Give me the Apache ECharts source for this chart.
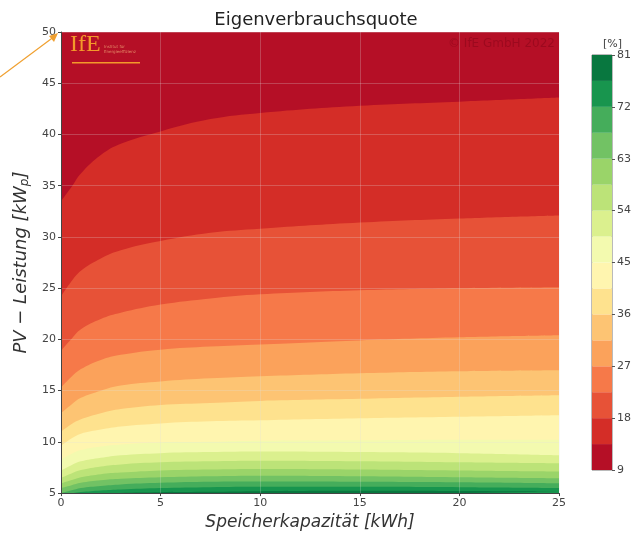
<!DOCTYPE html>
<html>
<head>
<meta charset="utf-8">
<title>Eigenverbrauchsquote</title>
<script src="https://cdn.jsdelivr.net/npm/echarts@6/dist/echarts.min.js"></script>
<style>
  html, body { margin: 0; padding: 0; background: #fff; }
  #chart { width: 638px; height: 536px; }
</style>
</head>
<body>
<div id="chart"></div>
<script>
// Speicherkapazität [kWh] where the contour lines were read
const capacity = [0, 0.5, 1, 2, 3, 5, 7.5, 10, 15, 20, 25]
// contour levels of the colour bar [%]
const levels = [9, 13.5, 18, 22.5, 27, 31.5, 36, 40.5, 45, 49.5, 54, 58.5, 63, 67.5, 72, 76.5, 81]
// PV-Leistung [kWp] of each contour line (value above the line is lower)
const iso13_5 = [33.5, 34.8, 36.2, 38.0, 39.1, 40.3, 41.5, 42.1, 42.8, 43.2, 43.6]
const iso18 = [24.2, 25.6, 26.7, 27.9, 28.7, 29.6, 30.4, 30.8, 31.4, 31.8, 32.1]
const iso22_5 = [18.9, 20.0, 21.0, 22.0, 22.6, 23.4, 24.0, 24.4, 24.8, 25.0, 25.1]
const iso27 = [15.3, 16.3, 17.1, 18.0, 18.5, 19.0, 19.3, 19.5, 19.9, 20.2, 20.4]
const iso31_5 = [12.8, 13.6, 14.3, 15.0, 15.5, 15.9, 16.2, 16.4, 16.7, 16.9, 17.0]
const iso36 = [11.0, 11.7, 12.2, 12.8, 13.2, 13.6, 13.8, 14.0, 14.2, 14.4, 14.55]
const iso40_5 = [9.6, 10.3, 10.8, 11.2, 11.5, 11.8, 12.0, 12.1, 12.3, 12.45, 12.6]
const iso45 = [8.3, 8.8, 9.2, 9.55, 9.75, 9.95, 10.0, 10.1, 10.15, 10.2, 10.2]
const iso49_5 = [7.2, 7.7, 8.1, 8.45, 8.7, 8.9, 9.0, 9.05, 9.0, 8.9, 8.7]
const iso54 = [6.5, 6.9, 7.25, 7.6, 7.8, 8.0, 8.1, 8.15, 8.1, 8.0, 7.9]
const iso58_5 = [5.95, 6.25, 6.55, 6.85, 7.0, 7.2, 7.3, 7.35, 7.3, 7.2, 7.1]
const iso63 = [5.5, 5.75, 6.0, 6.25, 6.4, 6.55, 6.65, 6.7, 6.65, 6.55, 6.45]
const iso67_5 = [5.0, 5.25, 5.5, 5.7, 5.85, 6.0, 6.1, 6.12, 6.1, 6.05, 5.95]
const iso72 = [5.0, 5.0, 5.1, 5.25, 5.35, 5.5, 5.58, 5.62, 5.62, 5.58, 5.5]
const iso76_5 = [5.0, 5.0, 5.0, 5.0, 5.02, 5.08, 5.12, 5.18, 5.22, 5.2, 5.15]

// RdYlGn, one colour per band (9-13.5 ... 76.5-81)
const bandColors = ['#b50f26', '#d42d27', '#e75237', '#f67949', '#fba25b', '#fdc473', '#fee28e', '#fff5af',
  '#f3faaf', '#dbf08e', '#bce378', '#9ad469', '#72c264', '#45ad5b', '#18954e', '#08773f']

const isoLines = [iso13_5, iso18, iso22_5, iso27, iso31_5, iso36, iso40_5, iso45,
  iso49_5, iso54, iso58_5, iso63, iso67_5, iso72, iso76_5]

let chart = echarts.init(document.getElementById('chart'))

// each contour line fills down to 5 kWp with the colour of the band above its level
let contourSeries = isoLines.map((line, i) => {
  return {
    name: String(levels[i + 1]),
    type: 'line',
    xAxisIndex: 0,
    yAxisIndex: 0,
    data: capacity.map((c, j) => [c, line[j]]),
    smooth: 0.4,
    symbol: 'none',
    lineStyle: { width: 0 },
    areaStyle: { color: bandColors[i + 1], opacity: 1, origin: 'start' },
    silent: true,
    z: 2
  }
})

// colour bar: stacked segments of 4.5 %
let barSeries = bandColors.map((col, i) => {
  return {
    type: 'bar',
    xAxisIndex: 1,
    yAxisIndex: 1,
    stack: 'cb',
    barWidth: '100%',
    data: [i === 0 ? levels[1] : levels[i + 1] - levels[i]],
    itemStyle: { color: col },
    silent: true
  }
})

const axisFont = { fontFamily: 'DejaVu Sans', fontSize: 11, color: '#444' }

chart.setOption({
  backgroundColor: '#fff',
  animation: false,
  title: {
    text: 'Eigenverbrauchsquote',
    left: 311,
    top: 6,
    textAlign: 'center',
    textStyle: { fontFamily: 'DejaVu Sans', fontSize: 18, fontWeight: 'normal', color: '#222' }
  },
  grid: [
    { left: 61, top: 32, width: 498, height: 463, show: true, backgroundColor: bandColors[0], borderWidth: 0 },
    { left: 592, top: 55, width: 20, height: 415, show: true, borderColor: '#777', borderWidth: 1 }
  ],
  xAxis: [
    {
      gridIndex: 0,
      type: 'value',
      min: 0,
      max: 25,
      interval: 5,
      z: 5,
      name: 'Speicherkapazität [kWh]',
      nameLocation: 'middle',
      nameGap: 19,
      nameTextStyle: { fontFamily: 'DejaVu Sans', fontStyle: 'italic', fontSize: 17, color: '#333' },
      axisLine: { show: true, onZero: false, lineStyle: { color: '#444', width: 1 } },
      axisTick: { show: true, length: 3, lineStyle: { color: '#444' } },
      axisLabel: Object.assign({ margin: 5 }, axisFont),
      splitLine: { show: true, lineStyle: { color: 'rgba(225,225,225,0.25)', width: 1 } }
    },
    {
      gridIndex: 1,
      type: 'category',
      data: ['cb'],
      show: false
    }
  ],
  yAxis: [
    {
      gridIndex: 0,
      type: 'value',
      min: 5,
      max: 50,
      interval: 5,
      z: 5,
      name: 'PV − Leistung [kW{sub|p}]',
      nameLocation: 'middle',
      nameGap: 28,
      nameRotate: 90,
      nameTextStyle: {
        fontFamily: 'DejaVu Sans', fontStyle: 'italic', fontSize: 18, color: '#333',
        rich: { sub: { fontFamily: 'DejaVu Sans', fontStyle: 'italic', fontSize: 12, color: '#333', verticalAlign: 'bottom', padding: [7, 0, 0, 0] } }
      },
      axisLine: { show: true, lineStyle: { color: '#444', width: 1 } },
      axisTick: { show: true, length: 3, lineStyle: { color: '#444' } },
      axisLabel: Object.assign({ margin: 5 }, axisFont),
      splitLine: { show: true, lineStyle: { color: 'rgba(225,225,225,0.25)', width: 1 } }
    },
    {
      gridIndex: 1,
      type: 'value',
      min: 9,
      max: 81,
      interval: 9,
      position: 'right',
      name: '[%]',
      nameLocation: 'end',
      nameGap: 3,
      nameTextStyle: Object.assign({ align: 'right', padding: [0, -10, 0, 0] }, axisFont),
      axisLine: { show: false },
      axisTick: { show: true, inside: false, length: 3, lineStyle: { color: '#555' } },
      axisLabel: Object.assign({ margin: 5 }, axisFont),
      splitLine: { show: false }
    }
  ],
  graphic: [
    // IfE logo
    { type: 'text', left: 70, top: 33, z: 20, silent: true,
      style: { text: 'IfE', fill: '#f39a2a', font: '24px "Liberation Serif"' } },
    { type: 'rect', z: 20, silent: true, shape: { x: 72, y: 62, width: 68, height: 1.5 }, style: { fill: '#f39a2a' } },
    { type: 'text', left: 104, top: 44, z: 20, silent: true,
      style: { text: 'Institut für\nEnergieeffizienz', fill: 'rgba(240,170,120,0.8)', font: '4px "DejaVu Sans"', lineHeight: 5 } },
    // watermark
    { type: 'text', right: 83, top: 38, z: 20, silent: true,
      style: { text: '© IfE GmbH 2022', fill: 'rgba(120,0,20,0.4)', font: '12px "DejaVu Sans"' } },
    // orange arrow at the left
    { type: 'line', z: 20, silent: true, shape: { x1: 0, y1: 77, x2: 55, y2: 36 }, style: { stroke: '#f0a030', lineWidth: 1.2 } },
    { type: 'polygon', z: 20, silent: true, shape: { points: [[58, 33], [49, 36], [54, 42]] }, style: { fill: '#f0a030' } }
  ],
  series: contourSeries.concat(barSeries)
})
</script>
</body>
</html>
